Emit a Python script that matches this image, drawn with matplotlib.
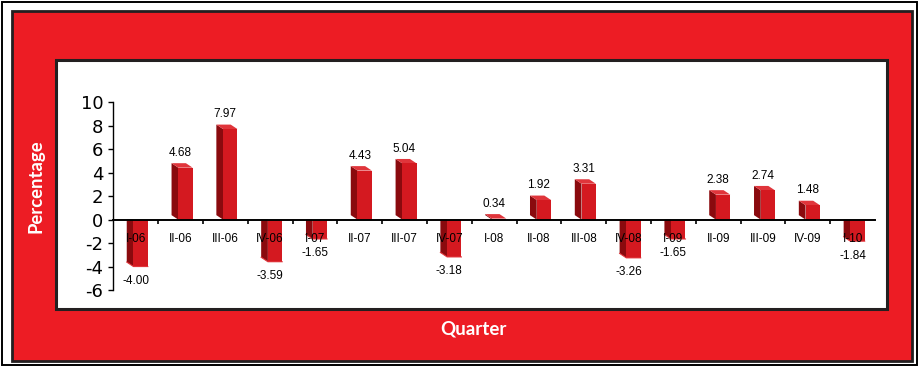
import numpy as np
import matplotlib
matplotlib.use("Agg")
import matplotlib.pyplot as plt
from matplotlib.patches import Rectangle, Polygon

# data
categories = ['I-06', 'II-06', 'III-06', 'IV-06', 'I-07', 'II-07', 'III-07', 'IV-07',
              'I-08', 'II-08', 'III-08', 'IV-08', 'I-09', 'II-09', 'III-09', 'IV-09', 'I-10']
values = [-4.00, 4.68, 7.97, -3.59, -1.65, 4.43, 5.04, -3.18,
          0.34, 1.92, 3.31, -3.26, -1.65, 2.38, 2.74, 1.48, -1.84]
yticks = [-6, -4, -2, 0, 2, 4, 6, 8, 10]

W, H = 919, 367
RED = '#ed1c24'
DARK = '#231f20'
FRONT = '#d41920'
SIDE = '#8a0a0e'
TOP = '#e0353b'

fig = plt.figure(figsize=(W / 100, H / 100), dpi=100)
fig.patch.set_facecolor('white')

def frect(x0, y0, x1, y1, **kw):
    # rectangle given in pixel coords (top-left origin)
    r = Rectangle((x0 / W, 1 - y1 / H), (x1 - x0) / W, (y1 - y0) / H,
                  transform=fig.transFigure, zorder=-5, **kw)
    fig.patches.append(r)

# outer thin frame, red frame, white panel
frect(1.5, 2, 917, 365, facecolor='white', edgecolor='black', lw=1.4)
frect(11.5, 11, 911.5, 361, facecolor=RED, edgecolor=DARK, lw=2.0)
frect(55.8, 59.7, 886.7, 309, facecolor='white', edgecolor=DARK, lw=2.2)

ax = fig.add_axes([113.3 / W, 1 - 290 / H, (875 - 113.3) / W, (290 - 102.3) / H])
ax.set_facecolor('none')
ax.set_zorder(5)

x = np.arange(len(categories))
dx, dy = 0.15, 0.38
fl, fr = -0.05, 0.27

for xi, v in zip(x, values):
    x0, x1 = xi + fl, xi + fr
    if v >= 0:
        top_f = max(v - 0.25, 0.05)
        side = [(x0, 0), (x0, top_f), (x0 - dx, top_f + dy), (x0 - dx, dy)]
        top = [(x0, top_f), (x1, top_f), (x1 - dx, top_f + dy), (x0 - dx, top_f + dy)]
        ax.add_patch(Polygon(side, closed=True, facecolor=SIDE, edgecolor='none', zorder=1))
        ax.add_patch(Polygon(top, closed=True, facecolor=TOP, edgecolor='none', zorder=1))
        ax.add_patch(Polygon([(x0, 0), (x1, 0), (x1, top_f), (x0, top_f)], closed=True,
                             facecolor=FRONT, edgecolor='none', zorder=1))
        ax.annotate(f'{v:.2f}', (xi, v), xytext=(0, 6.4), textcoords='offset points',
                    ha='center', va='baseline', fontsize=8.5, family='Liberation Sans')
    else:
        side = [(x0, 0), (x0, v), (x0 - dx, v + dy), (x0 - dx, 0)]
        ax.add_patch(Polygon(side, closed=True, facecolor=SIDE, edgecolor='none', zorder=1))
        ax.add_patch(Polygon([(x0, 0), (x1, 0), (x1, v), (x0, v)], closed=True,
                             facecolor=FRONT, edgecolor='none', zorder=1))
        ax.plot([x0 - dx, x0, x1], [v + dy, v, v], color=TOP, lw=0.8, zorder=1.1)
        ax.annotate(f'{v:.2f}', (xi, v), xytext=(0, -6), textcoords='offset points',
                    ha='center', va='top', fontsize=8.5, family='Liberation Sans')

ax.set_xlim(-0.5, len(categories) - 0.5)
ax.set_ylim(-6, 10)
ax.tick_params(axis='x', which='major', length=0, pad=9.5,
               labelsize=8.5, labelfontfamily='Liberation Sans')
ax.tick_params(axis='x', which='minor', length=3, width=1.2, direction='out')
ax.tick_params(axis='y', length=3.6, width=1.0, pad=3.5,
               labelsize=13, labelfontfamily='DejaVu Sans')
ax.set_yticks(yticks)
ax.set_yticklabels([str(t) for t in yticks])
ax.set_xticks(x)
ax.set_xticklabels(categories)
ax.set_xticks(x[:-1] + 0.5, minor=True)

for s in ['top', 'right']:
    ax.spines[s].set_visible(False)
ax.spines['bottom'].set_position(('data', 0))
ax.spines['bottom'].set_linewidth(1.4)
ax.spines['left'].set_linewidth(1.0)

fig.text(36 / W, 1 - 186 / H, 'Percentage', rotation=90, ha='center', va='center',
         color='white', fontsize=13.3, fontweight='bold', family='Lato')
fig.text(473.5 / W, 1 - 329 / H, 'Quarter', ha='center', va='center',
         color='white', fontsize=13.5, fontweight='bold', family='Lato')

fig.savefig('out.png', dpi=100)
